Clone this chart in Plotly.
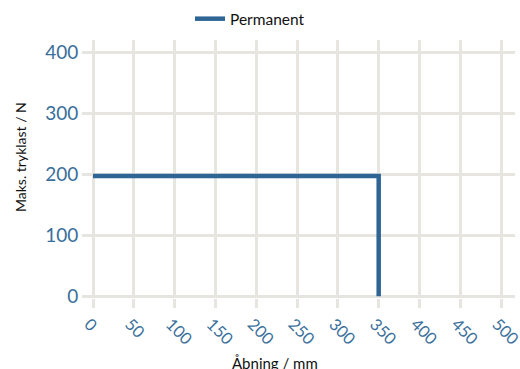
import plotly.graph_objects as go

# Data
aabning_mm = [0, 350, 350]
tryklast_n = [197, 197, 0]
series_name = "Permanent"
x_ticks = [0, 50, 100, 150, 200, 250, 300, 350, 400, 450, 500]
y_ticks = [0, 100, 200, 300, 400]
x_title = "Åbning / mm"
y_title = "Maks. tryklast / N"

grid = "#e6e5e0"
blue = "#2e6595"
tick_blue = "#3a6f9b"

fig = go.Figure()
fig.add_trace(go.Scatter(
    x=aabning_mm, y=tryklast_n, mode="lines", name=series_name,
    line=dict(color=blue, width=4.5, shape="linear"),
))

fig.update_layout(
    width=520, height=369,
    margin=dict(l=93, r=5, t=40, b=71, autoexpand=False),
    paper_bgcolor="white", plot_bgcolor="white",
    font=dict(family="Lato", color="#111111"),
    showlegend=True,
    legend=dict(orientation="h", x=0.372, xanchor="center", y=1.081, yanchor="middle",
                font=dict(size=15.5, color="#111111"), itemwidth=30),
    xaxis=dict(
        range=[0, 517], tickvals=x_ticks, tickangle=45, automargin=False,
        ticklabeloverflow="allow", ticklabelshift=-4,
        showgrid=True, gridcolor=grid, gridwidth=3,
        zeroline=True, zerolinecolor=grid, zerolinewidth=3,
        ticks="outside", ticklen=9, tickwidth=3, tickcolor=grid,
        tickfont=dict(size=16.5, color=tick_blue),
        showline=False,
    ),
    yaxis=dict(
        range=[-3, 420], tickvals=y_ticks, automargin=False,
        showgrid=True, gridcolor=grid, gridwidth=3,
        zeroline=True, zerolinecolor=grid, zerolinewidth=3,
        ticks="outside", ticklen=10, tickwidth=3, tickcolor=grid,
        tickfont=dict(size=19, color=tick_blue),
        showline=False,
    ),
    annotations=[
        dict(text=x_title, xref="paper", yref="paper", x=0.431, y=-0.252,
             xanchor="center", yanchor="middle", showarrow=False,
             font=dict(size=15, color="#111111")),
        dict(text=y_title, xref="paper", yref="paper", x=-0.173, y=0.5465,
             xanchor="center", yanchor="middle", showarrow=False, textangle=-90,
             font=dict(size=14, color="#111111")),
    ],
)

fig.write_html(
    "out.html",
    config={"displayModeBar": False},
    post_script="document.body.style.margin='0';document.body.style.overflow='hidden';",
)
